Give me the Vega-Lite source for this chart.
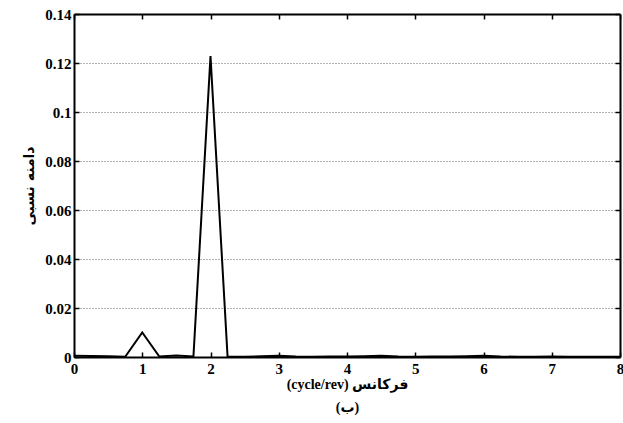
{
  "$schema": "https://vega.github.io/schema/vega-lite/v6.json",
  "autosize": "none",
  "padding": {"left": 74, "top": 14, "right": 3, "bottom": 66},
  "width": 546,
  "height": 343,
  "background": "white",
  "config": {
    "view": {"stroke": null},
    "font": "Liberation Serif",
    "axis": {
      "labelFont": "Liberation Serif",
      "labelFontWeight": "bold",
      "labelFontSize": 15,
      "labelColor": "black",
      "domainColor": "black",
      "domainWidth": 2,
      "tickColor": "black",
      "tickWidth": 1.5,
      "titleFont": "Liberation Serif, DejaVu Sans",
      "titleFontWeight": "bold",
      "titleColor": "black"
    }
  },
  "data": {
    "values": [
      {"f": 0, "a": 0.0005},
      {"f": 0.25, "a": 0.0004},
      {"f": 0.5, "a": 0.0003},
      {"f": 0.75, "a": 0.0001},
      {"f": 1, "a": 0.0100},
      {"f": 1.25, "a": 0.0002},
      {"f": 1.5, "a": 0.0006},
      {"f": 1.75, "a": 0.0002},
      {"f": 2, "a": 0.1228},
      {"f": 2.25, "a": 0.0002},
      {"f": 2.5, "a": 0.0001},
      {"f": 2.75, "a": 0.0003},
      {"f": 3, "a": 0.0005},
      {"f": 3.25, "a": 0.0002},
      {"f": 3.5, "a": 0.0001},
      {"f": 3.75, "a": 0.0002},
      {"f": 4, "a": 0.0002},
      {"f": 4.25, "a": 0.0003},
      {"f": 4.5, "a": 0.0005},
      {"f": 4.75, "a": 0.0002},
      {"f": 5, "a": 0.0001},
      {"f": 5.25, "a": 0.0002},
      {"f": 5.5, "a": 0.0002},
      {"f": 5.75, "a": 0.0003},
      {"f": 6, "a": 0.0005},
      {"f": 6.25, "a": 0.0002},
      {"f": 6.5, "a": 0.0001},
      {"f": 6.75, "a": 0.0001},
      {"f": 7, "a": 0.0002},
      {"f": 7.25, "a": 0.0001},
      {"f": 7.5, "a": 0.0001},
      {"f": 7.75, "a": 0.0001},
      {"f": 8, "a": 0.0001}
    ]
  },
  "layer": [
    {
      "mark": {"type": "line", "color": "black", "strokeWidth": 2},
      "encoding": {
        "x": {
          "field": "f", "type": "quantitative",
          "scale": {"domain": [0, 8], "nice": false},
          "axis": {
            "orient": "bottom",
            "values": [0, 1, 2, 3, 4, 5, 6, 7, 8],
            "tickSize": -5,
            "labelPadding": 9,
            "labelFlush": false,
            "grid": false,
            "title": ["(cycle/rev) فرکانس", "(ب)"],
            "titleFontSize": 14,
            "titlePadding": 1,
            "titleLineHeight": 23
          }
        },
        "y": {
          "field": "a", "type": "quantitative",
          "scale": {"domain": [0, 0.14], "nice": false},
          "axis": {
            "values": [0, 0.02, 0.04, 0.06, 0.08, 0.1, 0.12, 0.14],
            "format": "~g",
            "tickSize": -5,
            "labelPadding": 8,
            "grid": true,
            "gridColor": "#666666",
            "gridDash": [1, 2],
            "gridWidth": 1,
            "title": "دامنه نسبی",
            "titleFont": "DejaVu Sans",
            "titleFontSize": 14,
            "titlePadding": 8
          }
        }
      }
    },
    {
      "mark": {"type": "rule", "opacity": 0},
      "encoding": {
        "x": {
          "field": "f", "type": "quantitative",
          "axis": {
            "orient": "top",
            "values": [0, 1, 2, 3, 4, 5, 6, 7, 8],
            "tickSize": -5,
            "labels": false,
            "grid": false,
            "title": null
          }
        },
        "y": {
          "field": "a", "type": "quantitative",
          "axis": {
            "orient": "right",
            "values": [0, 0.02, 0.04, 0.06, 0.08, 0.1, 0.12, 0.14],
            "tickSize": -5,
            "labels": false,
            "grid": false,
            "title": null
          }
        }
      }
    }
  ],
  "resolve": {"axis": {"x": "independent", "y": "independent"}}
}
